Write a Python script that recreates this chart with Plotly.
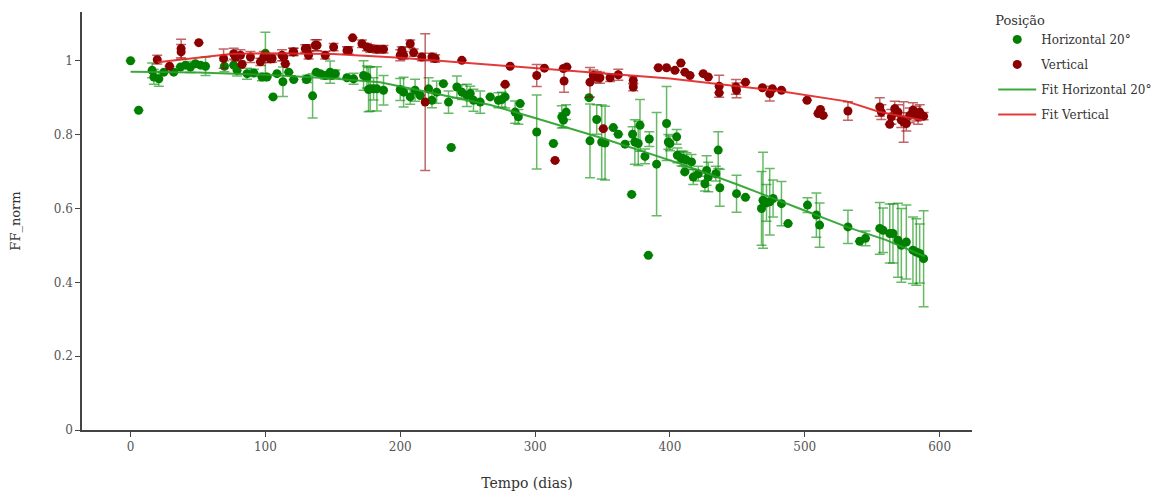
import plotly.graph_objects as go

# ---- Horizontal 20° (green) ----
h_x = [0, 6, 16, 17.3, 21, 24.7, 32, 37, 40.7, 44.4, 48.1, 51.9, 55.6, 69.6, 76.5, 79, 86.4, 91.4,
       97.5, 100, 101.2, 105.7, 108.6, 113, 117.3, 121, 130.4, 131, 135, 137.8, 140.7, 144.4, 148, 149.4,
       151.9, 160.5, 165.4, 172.8, 175.3, 176.5, 177.8, 180.2, 182.7, 187.6, 200, 202.5, 207.4, 211,
       214.8, 221, 223.5, 227, 232, 235.8, 237.8, 242, 245.7, 249.4, 251.9, 254.3, 259.3, 266.7, 272.8,
       275.3, 277.8, 285.2, 287.6, 288.9, 301.2, 313.6, 319.8, 321, 323, 340, 340.7, 345.7, 349.4,
       351.9, 358, 361.7, 366.7, 371.6, 372.3, 374, 376.5, 377.8, 381.5, 384, 384.7, 390.1, 397.5,
       398.8, 400, 405, 405.5, 408.6, 410, 411, 412.3, 416, 417.3, 421, 425.9, 427.2, 428.4, 434,
       435.8, 437, 449.4, 456, 467.9, 469, 471.6, 474, 476.5, 482.7, 487.6, 502, 508.6, 511, 532,
       540.7, 545, 555.6, 558, 563, 565.4, 569.1, 571.6, 575.3, 580.2, 582.7, 585.2, 588.1]
h_y = [1.00, 0.866, 0.974, 0.956, 0.951, 0.969, 0.969, 0.983, 0.988, 0.983, 0.992, 0.988, 0.985,
       0.985, 0.988, 0.974, 0.965, 0.967, 0.956, 1.02, 0.956, 0.902, 0.965, 0.943, 0.969, 0.949, 0.949,
       0.951, 0.905, 0.969, 0.965, 0.960, 0.969, 0.960, 0.965, 0.954, 0.951, 0.960, 0.956, 0.922,
       0.924, 0.924, 0.924, 0.920, 0.922, 0.915, 0.902, 0.920, 0.906, 0.924, 0.893, 0.915, 0.938,
       0.888, 0.765, 0.929, 0.915, 0.906, 0.911, 0.893, 0.888, 0.902, 0.893, 0.895, 0.902, 0.861,
       0.848, 0.884, 0.807, 0.776, 0.848, 0.839, 0.861, 0.900, 0.783, 0.841, 0.780, 0.777, 0.819,
       0.801, 0.774, 0.638, 0.801, 0.780, 0.776, 0.825, 0.741, 0.473, 0.788, 0.720, 0.830, 0.780,
       0.776, 0.794, 0.744, 0.735, 0.735, 0.699, 0.731, 0.726, 0.685, 0.694, 0.667, 0.703, 0.685,
       0.694, 0.758, 0.656, 0.640, 0.630, 0.600, 0.622, 0.615, 0.618, 0.627, 0.613, 0.559, 0.609,
       0.582, 0.555, 0.550, 0.511, 0.519, 0.546, 0.541, 0.532, 0.532, 0.514, 0.500, 0.509, 0.487,
       0.482, 0.478, 0.464]
h_err = [0, 0, 0.02, 0.02, 0.02, 0, 0, 0, 0, 0.015, 0, 0, 0.025, 0.015, 0, 0.015, 0.015, 0.01,
         0.01, 0.057, 0, 0, 0, 0.04, 0, 0, 0, 0.01, 0.06, 0, 0, 0.01, 0.03, 0, 0.01, 0, 0.015, 0.04,
         0.03, 0.06, 0.06, 0.03, 0.06, 0.04, 0.03, 0.04, 0.02, 0.03, 0, 0.03, 0.02, 0.03, 0, 0.03, 0,
         0.03, 0.02, 0.03, 0.02, 0.03, 0.03, 0, 0.02, 0.02, 0.03, 0.03, 0.02, 0, 0.10, 0, 0.03, 0.02,
         0.02, 0, 0.10, 0.04, 0.10, 0.10, 0, 0, 0, 0, 0.02, 0.06, 0.06, 0.07, 0.02, 0, 0.02, 0.14, 0.10,
         0.02, 0.02, 0.02, 0.02, 0.02, 0.02, 0, 0.02, 0.02, 0.02, 0.02, 0.02, 0.04, 0.04, 0.02, 0.05,
         0.05, 0.05, 0, 0.10, 0.13, 0.05, 0.09, 0.05, 0.06, 0, 0.02, 0.06, 0.06, 0.045, 0, 0.02,
         0.07, 0.06, 0.08, 0.08, 0.10, 0.10, 0.10, 0.09, 0.09, 0.08, 0.13]

# ---- Vertical (red) ----
v_x = [19.8, 28.9, 37.5, 37.5, 50.6, 69, 76.5, 77.8, 81.5, 82.7, 88.9, 96.3, 98.8, 103.7, 105,
       112.3, 113.6, 114.8, 120.5, 121, 129.6, 130.9, 132, 137, 138.3, 144.4, 150.6, 160.5, 161.7,
       164.7, 171.6, 175.3, 177.8, 182.7, 187.6, 200, 201.2, 202.5, 207.4, 209.9, 216, 218.5, 223.5,
       225.9, 245.7, 277.8, 281.5, 301.2, 306.9, 314.8, 321, 321.5, 323.5, 340.7, 343.2, 345.7, 348.1,
       350.6, 355.6, 361.7, 372.8, 372.8, 391.4, 397.5, 403.7, 408.1, 411.1, 414.8, 424.7, 428.4,
       436.5, 436.5, 448.9, 449.4, 456, 468.6, 474, 476, 482.7, 501.7, 509.9, 511.6, 513.6, 532,
       555.6, 556.8, 563, 564.2, 566.7, 569.1, 571.6, 573.3, 575.3, 577.8, 580.2, 582.7, 584, 585.2,
       588.1]
v_y = [1.003, 0.985, 1.033, 1.024, 1.049, 1.006, 1.019, 1.010, 1.015, 0.990, 1.010, 0.997, 1.010,
       1.005, 1.006, 1.015, 1.010, 0.992, 1.024, 1.024, 1.033, 1.033, 1.015, 1.042, 1.042, 1.015,
       1.037, 1.028, 1.028, 1.062, 1.046, 1.037, 1.033, 1.031, 1.031, 1.015, 1.028, 1.015, 1.046,
       1.022, 1.010, 0.888, 1.010, 1.006, 1.001, 0.936, 0.985, 0.960, 0.980, 0.730, 0.979, 0.945,
       0.983, 0.942, 0.960, 0.956, 0.954, 0.816, 0.954, 0.962, 0.947, 0.929, 0.981, 0.981, 0.974,
       0.994, 0.969, 0.960, 0.965, 0.956, 0.931, 0.913, 0.929, 0.920, 0.942, 0.927, 0.911, 0.924,
       0.920, 0.893, 0.857, 0.868, 0.852, 0.864, 0.875, 0.861, 0.828, 0.848, 0.870, 0.861, 0.839,
       0.834, 0.830, 0.852, 0.866, 0.857, 0.848, 0.861, 0.850]
v_err = [0.012, 0, 0.025, 0.02, 0, 0.026, 0.015, 0.01, 0.015, 0, 0.015, 0.01, 0.015, 0.01, 0.01,
         0.015, 0.01, 0, 0.01, 0.01, 0.01, 0.01, 0.01, 0.015, 0.015, 0.01, 0.01, 0.01, 0.01, 0, 0.01,
         0.01, 0.01, 0.01, 0.01, 0.015, 0.01, 0.01, 0.01, 0.01, 0.01, 0.185, 0.01, 0.01, 0, 0, 0,
         0.03, 0, 0, 0, 0.03, 0, 0.04, 0.015, 0.015, 0.015, 0, 0.01, 0.015, 0.01, 0.01, 0, 0, 0, 0, 0,
         0, 0, 0, 0.03, 0, 0.02, 0.02, 0, 0, 0.02, 0, 0, 0, 0, 0, 0, 0.025, 0.025, 0.02, 0, 0.02,
         0.02, 0.02, 0.02, 0.055, 0.02, 0.02, 0.02, 0.02, 0.02, 0.02, 0.01]

# ---- Fits ----
fh_x = [0, 50, 100, 150, 185, 220, 267, 300, 350, 407, 450, 496, 531, 560, 589]
fh_y = [0.970, 0.968, 0.962, 0.952, 0.942, 0.915, 0.880, 0.845, 0.790, 0.722, 0.665, 0.600, 0.550, 0.515, 0.470]
fv_x = [20, 76, 100, 150, 200, 300, 400, 481, 531, 555, 587]
fv_y = [0.996, 1.019, 1.020, 1.018, 1.008, 0.980, 0.952, 0.918, 0.890, 0.862, 0.839]

FONT = "DejaVu Serif"
GREEN = "#007f00"
RED = "#8b0000"

fig = go.Figure()
fig.add_trace(go.Scatter(
    x=h_x, y=h_y, mode="markers", name="Horizontal 20°", legendgroup="a",
    marker=dict(color=GREEN, size=9),
    error_y=dict(type="data", array=h_err, visible=True, color="rgba(0,140,0,0.6)",
                 thickness=1.5, width=5)))
fig.add_trace(go.Scatter(
    x=v_x, y=v_y, mode="markers", name="Vertical", legendgroup="b",
    marker=dict(color=RED, size=9),
    error_y=dict(type="data", array=v_err, visible=True, color="rgba(150,0,0,0.6)",
                 thickness=1.5, width=5)))
fig.add_trace(go.Scatter(x=fh_x, y=fh_y, mode="lines", name="Fit Horizontal 20°", legendgroup="c",
                         line=dict(color="rgba(40,160,40,0.9)", width=2)))
fig.add_trace(go.Scatter(x=fv_x, y=fv_y, mode="lines", name="Fit Vertical", legendgroup="d",
                         line=dict(color="rgba(225,35,35,0.9)", width=2)))

axis_common = dict(showline=True, linecolor="#444", linewidth=1.5, ticks="outside",
                   ticklen=5, tickcolor="#444", showgrid=False, zeroline=False,
                   automargin=False,
                   tickfont=dict(family=FONT, size=12, color="#555"))
fig.update_xaxes(range=[-36, 624], dtick=100, tick0=0,
                 title=dict(text="Tempo (dias)", font=dict(family=FONT, size=14, color="#333"), standoff=27),
                 **axis_common)
fig.update_yaxes(range=[0, 1.132], dtick=0.2, tick0=0,
                 title=dict(text="FF_norm", font=dict(family=FONT, size=13, color="#333"), standoff=30),
                 **axis_common)

fig.update_layout(
    width=1155, height=483,
    margin=dict(l=74, r=191, t=4, b=61, autoexpand=False),
    plot_bgcolor="white", paper_bgcolor="white",
    font=dict(family=FONT, size=12, color="#333"),
    legend=dict(x=0.853, y=1.005, xref="container", yref="container",
                xanchor="left", yanchor="top", itemwidth=38,
                title=dict(text="Posição", font=dict(family=FONT, size=13, color="#333")),
                font=dict(family=FONT, size=12, color="#333"), tracegroupgap=6),
)

fig.write_html("out.html")
